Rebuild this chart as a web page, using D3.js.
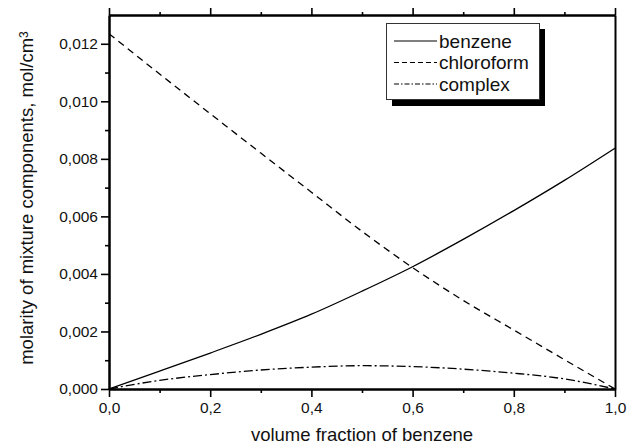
<!DOCTYPE html>
<html>
<head>
<meta charset="utf-8">
<script src="https://cdn.jsdelivr.net/npm/d3@7/dist/d3.min.js"></script>
<style>
  html, body { margin: 0; padding: 0; background: #fff; }
  svg { display: block; font-family: "Liberation Sans", Arial, sans-serif; }
</style>
</head>
<body>
<svg id="chart" width="627" height="445"></svg>
<script>
// ---- data ----
const volumeFraction = [0, 0.1, 0.2, 0.3, 0.4, 0.5, 0.6, 0.7, 0.8, 0.9, 1.0];
const benzene    = [0, 0.00062, 0.00125, 0.0019, 0.0026, 0.0034, 0.00425, 0.0052, 0.0062, 0.00725, 0.00837];
const chloroform = [0.01235, 0.01095, 0.00957, 0.0082, 0.00684, 0.00548, 0.00422, 0.00308, 0.00205, 0.00102, 0];
const complex    = [0, 0.0003, 0.0005, 0.00066, 0.00076, 0.00081, 0.00078, 0.00069, 0.00055, 0.00035, 0];
const seriesNames = ["benzene", "chloroform", "complex"];
const xMajorTicks = [0, 0.2, 0.4, 0.6, 0.8, 1.0];
const xMinorTicks = [0.1, 0.3, 0.5, 0.7, 0.9];
const yMajorTicks = [0, 0.002, 0.004, 0.006, 0.008, 0.010, 0.012];
const yMinorTicks = [0.001, 0.003, 0.005, 0.007, 0.009, 0.011];
const xTitle = "volume fraction of benzene";
const yTitle = "molarity of mixture components, mol/cm";

// ---- layout ----
const L = 109, R = 615, T = 15, B = 389;
const svg = d3.select("#chart");
const x = d3.scaleLinear().domain([0, 1]).range([L, R]);
const y = d3.scaleLinear().domain([0, 0.013]).range([B, T]);
const comma = f => v => d3.format(f)(v).replace(".", ",");

function styleAxis(g) {
  g.selectAll(".domain").attr("stroke", "#000").attr("stroke-width", 2);
  g.selectAll(".tick line").attr("stroke", "#000").attr("stroke-width", 1.6);
  g.selectAll(".tick text").attr("fill", "#111").style("font-size", "15.5px")
    .style("font-family", "'Liberation Sans', Arial, sans-serif");
}

// bottom axis
const gb = svg.append("g").attr("transform", `translate(0,${B})`)
  .call(d3.axisBottom(x).tickValues(xMajorTicks).tickFormat(comma(".1f")).tickSize(8).tickSizeOuter(0).tickPadding(5));
styleAxis(gb);
const gbm = svg.append("g").attr("transform", `translate(0,${B})`)
  .call(d3.axisBottom(x).tickValues(xMinorTicks).tickFormat("").tickSize(4).tickSizeOuter(0));
styleAxis(gbm);

// top axis
const gt = svg.append("g").attr("transform", `translate(0,${T})`)
  .call(d3.axisTop(x).tickValues(xMajorTicks).tickFormat("").tickSize(7).tickSizeOuter(0));
styleAxis(gt);
const gtm = svg.append("g").attr("transform", `translate(0,${T})`)
  .call(d3.axisTop(x).tickValues(xMinorTicks).tickFormat("").tickSize(3).tickSizeOuter(0));
styleAxis(gtm);

// left axis
const gl = svg.append("g").attr("transform", `translate(${L},0)`)
  .call(d3.axisLeft(y).tickValues(yMajorTicks).tickFormat(comma(".3f")).tickSize(8).tickSizeOuter(0).tickPadding(3));
styleAxis(gl);
const glm = svg.append("g").attr("transform", `translate(${L},0)`)
  .call(d3.axisLeft(y).tickValues(yMinorTicks).tickFormat("").tickSize(4).tickSizeOuter(0));
styleAxis(glm);

// right axis (no ticks)
const gr = svg.append("g").attr("transform", `translate(${R},0)`)
  .call(d3.axisRight(y).tickValues([]).tickSizeOuter(0));
styleAxis(gr);

// ---- curves ----
const styles = [
  { data: benzene, dash: null },
  { data: chloroform, dash: "7,5" },
  { data: complex, dash: "9,3,2,3" }
];
const line = d3.line().x(d => x(d[0])).y(d => y(d[1])).curve(d3.curveMonotoneX);
styles.forEach(s => {
  svg.append("path")
    .datum(volumeFraction.map((v, i) => [v, s.data[i]]))
    .attr("d", line)
    .attr("fill", "none")
    .attr("stroke", "#000")
    .attr("stroke-width", 1.3)
    .attr("stroke-dasharray", s.dash);
});

// ---- legend ----
const lg = svg.append("g");
lg.append("rect").attr("x", 392).attr("y", 29).attr("width", 153).attr("height", 77).attr("fill", "#000");
lg.append("rect").attr("x", 386.5).attr("y", 23.5).attr("width", 153).attr("height", 76)
  .attr("fill", "#fff").attr("stroke", "#333").attr("stroke-width", 1);
const legendDash = [null, "5,3", "5,2,1.5,2"];
seriesNames.forEach((name, i) => {
  const cy = 41 + i * 21.5;
  lg.append("line").attr("x1", 394).attr("x2", 437).attr("y1", cy).attr("y2", cy)
    .attr("stroke", "#000").attr("stroke-width", 1.2).attr("stroke-dasharray", legendDash[i]);
  lg.append("text").attr("x", 439).attr("y", cy).attr("dy", "0.35em")
    .style("font-size", "19px").attr("fill", "#111").text(name);
});

// ---- titles ----
svg.append("text").attr("x", (L + R) / 2).attr("y", 441).attr("text-anchor", "middle")
  .style("font-size", "18.5px").attr("fill", "#111").text(xTitle);

const yt = svg.append("text").attr("transform", `translate(33,198) rotate(-90)`)
  .attr("text-anchor", "middle").style("font-size", "18.5px").attr("fill", "#111");
yt.append("tspan").text(yTitle);
yt.append("tspan").attr("dy", "-0.45em").style("font-size", "12px").text("3");
</script>
</body>
</html>
